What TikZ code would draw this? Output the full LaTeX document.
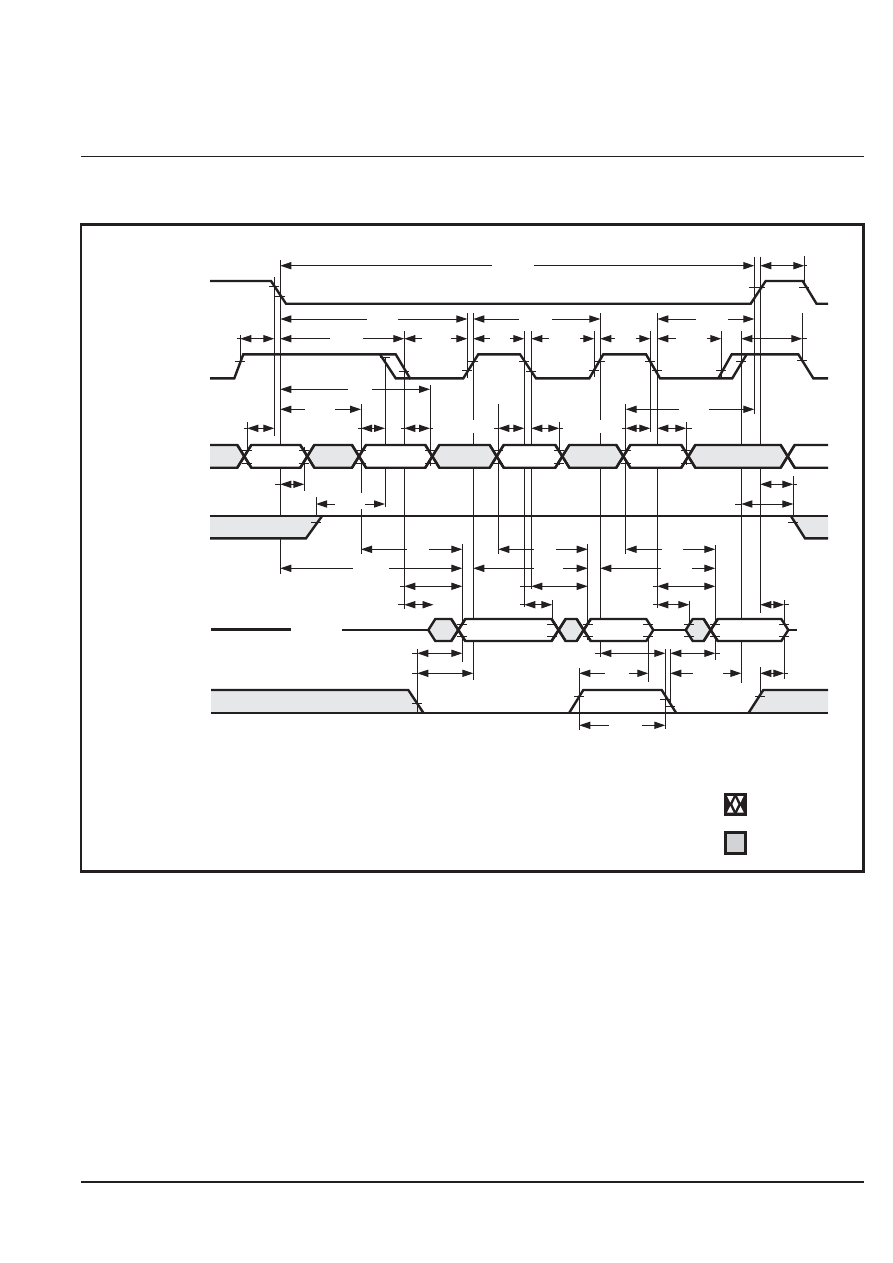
\documentclass[tikz,border=0pt]{standalone}
\usetikzlibrary{arrows.meta}
\definecolor{ink}{HTML}{231F20}
\definecolor{bodygray}{HTML}{E6E7E8}
\definecolor{legendgray}{HTML}{D1D3D4}
\tikzset{
  sig/.style={draw=ink,line width=2.4pt,line join=miter,miter limit=3},
  ext/.style={draw=ink,line width=0.95pt},
  tick/.style={draw=ink,line width=0.7pt},
  dimL/.style={ext,{Triangle[length=11pt,width=7.2pt]}-},
  dimR/.style={ext,-{Triangle[length=11pt,width=7.2pt]}},
  dimB/.style={ext,{Triangle[length=11pt,width=7.2pt]}-{Triangle[length=11pt,width=7.2pt]}},
}
% horizontal dimension with both heads
\newcommand{\dimb}[3]{\draw[dimB] (#2,#1) -- (#3,#1);}
% horizontal dimension with a gap: y, x1, gap-left, gap-right, x2
\newcommand{\dimg}[5]{\draw[dimL] (#2,#1) -- (#3,#1); \draw[dimR] (#4,#1) -- (#5,#1);}
% stub
\newcommand{\stub}[3]{\draw[ext] (#2,#1) -- (#3,#1);}
% vertical line
\newcommand{\vl}[3]{\draw[ext] (#1,#2) -- (#1,#3);}
% bus body between two crossings
\newcommand{\bus}[5]{\path[sig,fill=#3] (#1,{(#4+#5)/2}) -- ({#1+7},#4) -- ({#2-7},#4) -- (#2,{(#4+#5)/2}) -- ({#2-7},#5) -- ({#1+7},#5) -- cycle;}
% full X at a bus crossing
\newcommand{\xc}[3]{\draw[sig] ({#1-7},#2) -- ({#1+7},#3); \draw[sig] ({#1-7},#3) -- ({#1+7},#2);}
% tick
\newcommand{\tk}[2]{\draw[tick] ({#1-5},#2) -- ({#1+5},#2);}
\begin{document}
\begin{tikzpicture}[x=1pt,y=-1pt]
\useasboundingbox (0,0) rectangle (892,1263);
\fill[white] (0,0) rectangle (892,1263);
% rules and frame
\draw[ink,line width=1pt] (81,156.5) -- (863.5,156.5);
\draw[ink,line width=2pt] (81,1182) -- (863.5,1182);
\draw[ink,line width=2.6pt] (81,224.7) rectangle (863.5,871.3);
% extension lines
\vl{280.3}{260}{574}
\vl{274.3}{277}{435.7}
\vl{240.3}{335}{362}
\vl{247.3}{422}{465}
\vl{304.3}{447}{490.7}
\vl{316}{497}{516}
\vl{361}{404}{493}
\vl{361}{509}{554}
\vl{385}{357}{506.7}
\vl{404.3}{331}{609.3}
\vl{430}{385}{466}
\vl{467.3}{313}{378}
\vl{473.3}{313}{420}
\vl{473.3}{432.7}{680}
\vl{462.3}{544}{662.3}
\vl{498.3}{404}{554}
\vl{524.3}{331}{607}
\vl{531.3}{331}{589}
\vl{600.3}{313}{420}
\vl{600.3}{432.7}{656.7}
\vl{594.3}{331}{376.7}
\vl{650.3}{331}{431.7}
\vl{657.3}{313}{608.3}
\vl{625.7}{404}{554}
\vl{686.3}{421.7}{465}
\vl{559.3}{421.7}{465}
\vl{721.3}{331}{376.7}
\vl{741.3}{331}{682.7}
\vl{754.3}{256.7}{414}
\vl{760.3}{256.7}{612.7}
\vl{804.3}{256}{285}
\vl{802.3}{313}{360}
\vl{793.3}{476}{516.7}
\vl{587.7}{544}{640}
\vl{552.3}{600}{640}
\vl{689.3}{600.7}{622}
\vl{715.3}{545}{660}
\vl{784.3}{600}{679}
\vl{760.3}{667}{693}
\vl{648.3}{632}{681.7}
\vl{579.3}{668}{730}
\vl{665.3}{649}{729}
\vl{670.3}{649}{706}
% dimensions
\dimg{265.7}{280.3}{491.7}{534}{754.3}
\dimb{265.7}{760.3}{804.3}\stub{265.7}{804.3}{807}
\dimg{319}{280.3}{367}{398}{467.3}
\dimg{319}{473.3}{519}{552}{600.3}
\dimg{319}{657.3}{695.7}{728.3}{754.3}
\dimb{338.7}{240.3}{274.3}\stub{338.7}{237}{240.3}
\dimg{338.7}{280.3}{330}{363}{404.3}
\dimg{338.7}{404.3}{421.7}{451}{467.3}
\dimg{338.7}{473.3}{490}{510}{524.3}
\dimg{338.7}{531.3}{549.3}{580}{594.3}
\dimg{338.7}{600.3}{615}{635.7}{650.3}
\dimg{338.7}{657.3}{676}{706.7}{721.3}
\dimb{338.7}{741.3}{802.3}\stub{338.7}{802.3}{806.7}
\dimg{389.3}{280.3}{348.3}{371.7}{430}
\dimg{409.3}{280.3}{305}{335}{361}
\dimg{409.3}{625.7}{679}{709}{754.3}
\dimb{428.3}{247.3}{274.3}\stub{428.3}{244}{247.3}
\dimb{428.3}{361}{385}\stub{428.3}{358}{361}
\dimb{428.3}{404.3}{430}\stub{428.3}{430}{432.7}\stub{428.3}{401}{404.3}
\dimb{428.3}{498.3}{524.3}\stub{428.3}{494.3}{498.3}
\dimb{428.3}{531.3}{559.3}\stub{428.3}{559.3}{562.7}
\dimb{428.3}{625.7}{650.3}\stub{428.3}{622.3}{625.7}
\dimb{428.3}{657.3}{686.3}\stub{428.3}{686.3}{691.7}
\dimb{484.3}{280.3}{304.3}\stub{484.3}{275}{280.3}
\dimb{484.3}{760.3}{793.3}\stub{484.3}{793.3}{797.3}
\dimg{504}{316}{335}{365}{385}
\dimb{504}{741.3}{793.3}\stub{504}{735}{741.3}
\dimg{549.3}{361}{406.7}{429}{462.3}
\dimg{549.3}{498.3}{534}{556}{587.7}
\dimg{549.3}{625.7}{661.7}{683.3}{715.3}
\dimg{568.3}{280.3}{353}{389}{462.3}
\dimg{568.3}{473.3}{534}{563.3}{587.7}
\dimg{568.3}{600.3}{660.7}{691.7}{715.3}
\dimb{586.3}{404.3}{462.3}\stub{586.3}{400}{404.3}
\dimb{586.3}{531.3}{587.7}\stub{586.3}{520}{531.3}
\dimb{586.3}{657.3}{715.3}\stub{586.3}{653.3}{657.3}
\dimb{604.7}{404.3}{433.5}\stub{604.7}{398.3}{404.3}
\dimb{604.7}{524.3}{552.3}\stub{604.7}{520}{524.3}
\dimb{604.7}{657.3}{689.3}\stub{604.7}{653.3}{657.3}
\dimb{604.7}{760.3}{784.3}\stub{604.7}{784.3}{789.3}
\dimb{653.3}{417.3}{462.3}\stub{653.3}{412.3}{417.3}
\dimb{653.3}{600.3}{665.3}\stub{653.3}{595.3}{600.3}
\dimb{653.3}{670.3}{715.3}\stub{653.3}{715.3}{720}
\dimb{673.3}{417.3}{473.3}\stub{673.3}{412.3}{417.3}
\dimg{673.3}{579.3}{605}{629}{648.3}
\dimg{673.3}{670.3}{692.7}{723.3}{741.3}
\dimb{673.3}{760.3}{784.3}\stub{673.3}{784.3}{788.3}
\dimg{725.3}{579.3}{609}{642.3}{665.3}
% signal 1
\draw[sig] (210,281) -- (271,281) -- (286,303.7) -- (750.7,303.7) -- (765.7,281) -- (802.7,281) -- (816.5,303.7) -- (828,303.7);
% signal 2
\draw[sig] (210,378.3) -- (234.3,378.3) -- (243.3,354.3) -- (395.7,354.3) -- (410,378.3) -- (463.3,378.3) -- (478.3,354.3) -- (520,354.3) -- (536,378.3) -- (589.3,378.3) -- (603.3,354.3) -- (646,354.3) -- (660,378.3) -- (732.3,378.3) -- (746.7,354.3) -- (798.3,354.3) -- (813.3,378.3) -- (828,378.3);
\draw[sig] (380,354.3) -- (395.7,378.3) -- (410,378.3);
\draw[sig] (718.3,378.3) -- (731.7,354.3) -- (746.7,354.3);
% signal 3
\fill[bodygray] (210,445) -- (237.3,445) -- (244.3,456.3) -- (237.3,467.7) -- (210,467.7) -- cycle;
\draw[sig] (210,445) -- (237.3,445) -- (244.3,456.3) -- (237.3,467.7) -- (210,467.7);
\bus{244.3}{307.3}{white}{445}{467.7}
\bus{307.3}{359}{bodygray}{445}{467.7}
\bus{359}{432.3}{white}{445}{467.7}
\bus{432.3}{496.7}{bodygray}{445}{467.7}
\bus{496.7}{562.3}{white}{445}{467.7}
\bus{562.3}{623.3}{bodygray}{445}{467.7}
\bus{623.3}{688.3}{white}{445}{467.7}
\bus{688.3}{787.7}{bodygray}{445}{467.7}
\fill[white] (787.7,456.3) -- (794.7,445) -- (828,445) -- (828,467.7) -- (794.7,467.7) -- cycle;
\draw[sig] (828,445) -- (794.7,445) -- (787.7,456.3) -- (794.7,467.7) -- (828,467.7);
\foreach \c in {244.3,307.3,359,432.3,496.7,562.3,623.3,688.3,787.7}{\xc{\c}{445}{467.7}}
% signal 4
\fill[bodygray] (210,515.7) -- (322.3,515.7) -- (306,538.3) -- (210,538.3) -- cycle;
\fill[bodygray] (790.7,515.7) -- (805,538.3) -- (828,538.3) -- (828,515.7) -- cycle;
\draw[sig] (210,515.7) -- (828,515.7);
\draw[sig] (210,538.3) -- (306,538.3) -- (322.3,515.7);
\draw[sig] (790.7,515.7) -- (805,538.3) -- (828,538.3);
% signal 5
\draw[sig] (211,629.5) -- (291,629.5);
\draw[sig] (342,630) -- (428.3,630);
\bus{428.3}{458.3}{bodygray}{619}{641}
\bus{458.3}{558.6}{white}{619}{641}
\bus{558.6}{583.7}{bodygray}{619}{641}
\bus{583.7}{653.3}{white}{619}{641}
\draw[sig] (653.3,630) -- (685.7,630);
\bus{685.7}{710.7}{bodygray}{619}{641}
\bus{710.7}{788.3}{white}{619}{641}
\draw[sig] (788.3,630) -- (796.7,630);
\foreach \c in {458.3,558.6,583.7,710.7}{\xc{\c}{619}{641}}
% signal 6
\fill[bodygray] (211,690) -- (408.3,690) -- (423.3,712.7) -- (211,712.7) -- cycle;
\fill[bodygray] (748.7,712.7) -- (763.3,690) -- (828,690) -- (828,712.7) -- cycle;
\draw[sig] (211,712.7) -- (828,712.7);
\draw[sig] (211,690) -- (408.3,690) -- (423.3,712.7);
\draw[sig] (569.3,712.7) -- (583.3,690) -- (661.7,690) -- (676,712.7);
\draw[sig] (748.7,712.7) -- (763.3,690) -- (828,690);
\vl{417.3}{649.3}{712}
% ticks
\tk{274.3}{286}\tk{280.3}{296}
\tk{240.3}{361}\tk{385}{357}\tk{404.3}{371.7}\tk{467.3}{370.7}\tk{473.3}{361}
\tk{524.3}{361}\tk{531.3}{371}\tk{594.3}{370.7}\tk{600.3}{361}\tk{650.3}{361}\tk{657.3}{370.7}
\tk{721.3}{370.7}\tk{741.3}{361}\tk{802.3}{360}
\tk{754.3}{287}\tk{760.3}{287}\tk{804.3}{287}
\foreach \x in {247.3,304.3,361,430,498.3,559.3,625.7,686.3}{\tk{\x}{450}\tk{\x}{463}}
\tk{316}{522}\tk{793.3}{522}
\foreach \x in {462.3,552.3,587.7,648.3,689.3,715.3,784.3}{\tk{\x}{624}\tk{\x}{636}}
\tk{417.3}{703}\tk{579.3}{696}\tk{665.3}{699}\tk{670.3}{706}\tk{760.3}{696}
% legend
\fill[ink] (724,792.7) rectangle (746.7,815.7);
\fill[white] (727,796) -- (733.5,796) -- (730.3,802.5) -- cycle;
\fill[white] (737.2,796) -- (743.7,796) -- (740.5,802.5) -- cycle;
\fill[white] (727,812.5) -- (733.5,812.5) -- (730.3,806) -- cycle;
\fill[white] (737.2,812.5) -- (743.7,812.5) -- (740.5,806) -- cycle;
\fill[white] (735.3,798) -- (738.3,804.2) -- (735.3,810.4) -- (732.4,804.2) -- cycle;
\fill[ink] (724,831) rectangle (746.7,854.7);
\fill[legendgray] (727,834) rectangle (743.7,851.7);
\end{tikzpicture}
\end{document}
